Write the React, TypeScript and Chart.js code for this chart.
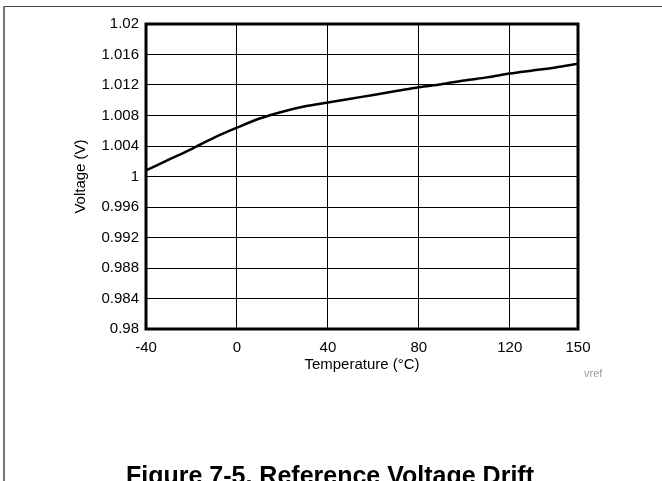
import React, { useEffect, useRef } from "react";
import { Chart, registerables } from "chart.js";

Chart.register(...registerables);

const temps = [-40, -30, -20, -10, 0, 10, 20, 30, 40, 50, 60, 70, 80, 90, 100, 110, 120, 130, 140, 150];
const volts = [1.0008, 1.0022, 1.0036, 1.0051, 1.0064, 1.0076, 1.0085, 1.0092, 1.0097, 1.0102, 1.0107, 1.0112, 1.0117, 1.0121, 1.0126, 1.013, 1.0135, 1.0139, 1.0143, 1.0148];

const xTicks = [-40, 0, 40, 80, 120, 150];
const xTickLabels = ["-40", "0", "40", "80", "120", "150"];
const yTicks = [0.98, 0.984, 0.988, 0.992, 0.996, 1, 1.004, 1.008, 1.012, 1.016, 1.02];
const yTickLabels = ["0.98", "0.984", "0.988", "0.992", "0.996", "1", "1.004", "1.008", "1.012", "1.016", "1.02"];

const xTitle = "Temperature (°C)";
const yTitle = "Voltage (V)";
const figTitle = "Figure 7-5. Reference Voltage Drift";
const tag = "vref";

const FONT = "'Liberation Sans', Arial, Helvetica, sans-serif";

const framePlugin = {
  id: "frame",
  afterDatasetsDraw(chart: any) {
    const { ctx, chartArea } = chart;
    ctx.save();
    ctx.strokeStyle = "#000";
    ctx.lineWidth = 3;
    ctx.strokeRect(chartArea.left, chartArea.top, chartArea.right - chartArea.left, chartArea.bottom - chartArea.top);
    ctx.restore();
  },
};

export default function App() {
  const ref = useRef<HTMLCanvasElement | null>(null);

  useEffect(() => {
    if (!ref.current) return;
    const chart = new Chart(ref.current, {
      type: "line",
      data: {
        datasets: [
          {
            data: temps.map((t, i) => ({ x: t, y: volts[i] })),
            borderColor: "#000",
            borderWidth: 2.5,
            pointRadius: 0,
            cubicInterpolationMode: "monotone",
            fill: false,
          },
        ],
      },
      options: {
        animation: false,
        responsive: false,
        devicePixelRatio: 1,
        layout: { padding: { left: 0, top: 24, right: 84, bottom: 0 } },
        plugins: { legend: { display: false }, tooltip: { enabled: false } },
        scales: {
          x: {
            type: "linear",
            min: -40,
            max: 150,
            afterBuildTicks: (s: any) => {
              s.ticks = xTicks.map((v) => ({ value: v }));
            },
            afterFit: (s: any) => {
              s.height = 152;
              s.paddingLeft = 0;
              s.paddingRight = 0;
            },
            ticks: {
              color: "#000",
              padding: 10,
              autoSkip: false,
              maxRotation: 0,
              font: { family: FONT, size: 15 },
              callback: (_v: any, i: number) => xTickLabels[i],
            },
            grid: { color: "#000", lineWidth: 1, drawTicks: false },
            border: { display: false },
            title: {
              display: true,
              text: xTitle,
              color: "#000",
              font: { family: FONT, size: 15 },
              padding: { top: 0, bottom: 107 },
            },
          },
          y: {
            type: "linear",
            min: 0.98,
            max: 1.02,
            afterBuildTicks: (s: any) => {
              s.ticks = yTicks.map((v) => ({ value: v }));
            },
            afterFit: (s: any) => {
              s.width = 146;
              s.paddingTop = 0;
              s.paddingBottom = 0;
            },
            ticks: {
              color: "#000",
              padding: 7,
              autoSkip: false,
              font: { family: FONT, size: 15 },
              callback: (_v: any, i: number) => yTickLabels[i],
            },
            grid: { color: "#000", lineWidth: 1, drawTicks: false },
            border: { display: false },
            title: {
              display: true,
              text: yTitle,
              color: "#000",
              font: { family: FONT, size: 15 },
              padding: { top: 72, bottom: 0 },
            },
          },
        },
      },
      plugins: [framePlugin],
    } as any);
    return () => chart.destroy();
  }, []);

  return (
    <div style={{ position: "absolute", left: 0, top: 0, width: 662, height: 481, overflow: "hidden", background: "#fff" }}>
      <div style={{ position: "absolute", left: 3, top: 6, width: 659, height: 1, background: "#444" }} />
      <div style={{ position: "absolute", left: 3, top: 6, width: 2, height: 475, background: "#777" }} />
      <canvas ref={ref} width={662} height={481} style={{ position: "absolute", left: 0, top: 0 }} />
      <div
        style={{
          position: "absolute",
          left: 584,
          top: 367,
          fontFamily: FONT,
          fontSize: 11,
          lineHeight: "13px",
          color: "#999",
        }}
      >
        {tag}
      </div>
      <div
        style={{
          position: "absolute",
          left: 0,
          width: 660,
          top: 463,
          textAlign: "center",
          fontFamily: FONT,
          fontSize: 25,
          fontWeight: "bold",
          lineHeight: "25px",
          color: "#000",
          whiteSpace: "nowrap",
        }}
      >
        {figTitle}
      </div>
    </div>
  );
}
